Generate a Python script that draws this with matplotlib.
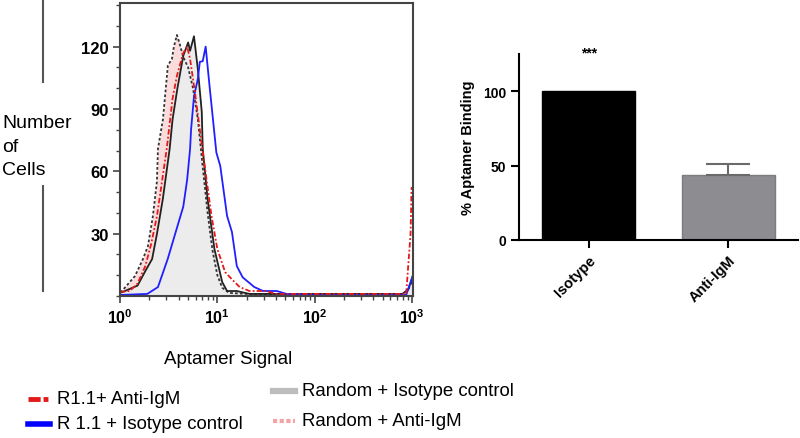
import matplotlib.pyplot as plt
import numpy as np
from matplotlib.lines import Line2D
from matplotlib.ticker import LogLocator, MultipleLocator, NullFormatter

plt.rcParams['font.family'] = ['Liberation Sans', 'DejaVu Sans']
plt.rcParams['mathtext.fontset'] = 'custom'
plt.rcParams['mathtext.bf'] = 'Liberation Sans:bold'
plt.rcParams['mathtext.rm'] = 'Liberation Sans'

# flow histograms, x as log10(aptamer signal), y as number of cells
rand_anti_x = [0.0, 0.02, 0.154, 0.236, 0.287, 0.338, 0.379, 0.39, 0.441, 0.492, 0.533,
               0.554, 0.585, 0.615, 0.65, 0.70, 0.75, 0.80, 0.85, 0.90, 0.95, 1.0, 1.05,
               1.12, 1.3, 1.6, 2.0, 2.5, 2.9, 2.96, 3.01]
rand_anti_y = [2, 2.4, 9.6, 17.8, 24, 38.5, 55, 70.8, 85, 111, 114,
               120, 125.6, 121, 115, 110, 100, 85, 62, 40, 22, 10, 4,
               1.5, 1, 0.8, 0.8, 0.8, 0.8, 3, 8]

rand_iso_x = [0.0, 0.05, 0.18, 0.26, 0.33, 0.38, 0.44, 0.51, 0.54, 0.59, 0.65, 0.70,
              0.72, 0.76, 0.80, 0.84, 0.85, 0.90, 0.97, 1.05, 1.10, 1.20, 1.33, 2.0,
              2.9, 2.96, 3.01]
rand_iso_y = [1.5, 2.4, 5, 12, 17.8, 30, 46.7, 70.8, 85, 100, 115.6, 122,
              118, 125, 109, 88.6, 70.8, 46.7, 22.6, 6.7, 2.4, 2.4, 1, 1,
              1, 3, 10]

r11_anti_x = [0.0, 0.1, 0.18, 0.26, 0.32, 0.38, 0.48, 0.54, 0.585, 0.65, 0.69, 0.72,
              0.77, 0.82, 0.86, 0.94, 1.0, 1.08, 1.15, 1.23, 1.33, 1.5, 1.6, 2.0,
              2.94, 2.985, 2.995, 3.01]
r11_anti_y = [2, 2.4, 6, 14.4, 25, 38.5, 70.8, 95, 106, 117, 120, 114,
              98, 80, 66, 38.5, 22.6, 11.5, 8, 4.3, 2.4, 2.4, 1, 1,
              1, 30, 52, 52]

r11_iso_x = [0.0, 0.28, 0.39, 0.49, 0.58, 0.65, 0.69, 0.72, 0.73, 0.76, 0.80, 0.82,
             0.85, 0.88, 0.92, 0.955, 0.99, 1.03, 1.10, 1.15, 1.20, 1.26, 1.38, 1.47,
             1.61, 1.71, 2.0, 2.94, 3.01]
r11_iso_y = [0.5, 1, 4.3, 17.8, 32, 43, 56, 70.8, 80, 96, 104.5, 112.7,
             113, 120, 101, 85, 69, 62.6, 38.5, 30.8, 14.4, 9, 4.3, 2.4,
             2.4, 1, 0.5, 0.5, 10]

hist_ticks = [1, 10, 100, 1000]
hist_tick_labels = [r'$\mathbf{10^{0}}$', r'$\mathbf{10^{1}}$',
                    r'$\mathbf{10^{2}}$', r'$\mathbf{10^{3}}$']
count_ticks = [30, 60, 90, 120]

# bar chart
groups = ['Isotype', 'Anti-IgM']
binding = [100, 44]
binding_err = [0, 7.3]

fig = plt.figure(figsize=(8, 4.39), dpi=100)
W, H = 800, 439

ax = fig.add_axes([120 / W, 1 - 297 / H, 293 / W, 293 / H])
ax.set_xscale('log')

ax.fill_between(10 ** np.array(rand_anti_x), rand_anti_y, color='#fbdcdc', lw=0)
ax.fill_between(10 ** np.array(rand_iso_x), rand_iso_y, color='#ececec', lw=0)
ax.plot(10 ** np.array(rand_anti_x), rand_anti_y, color='#333333', lw=1.3,
        linestyle=(0, (1.5, 1.2)))
ax.plot(10 ** np.array(rand_iso_x), rand_iso_y, color='#222222', lw=1.3)
ax.plot(10 ** np.array(r11_iso_x), r11_iso_y, color='#1f1fff', lw=1.3)
ax.plot(10 ** np.array(r11_anti_x), r11_anti_y, color='#e41a1a', lw=1.3,
        linestyle=(0, (3, 1.2, 1, 1.2)))

ax.set_xlim(1, 10 ** 3.01)
ax.set_ylim(0, 141)
ax.set_xticks(hist_ticks)
ax.set_xticklabels(hist_tick_labels, fontsize=11.5)
ax.xaxis.set_minor_locator(LogLocator(base=10, subs=np.arange(2, 10)))
ax.xaxis.set_minor_formatter(NullFormatter())
ax.set_yticks(count_ticks)
ax.set_yticklabels([str(v) for v in count_ticks], fontsize=12, fontweight='bold')
ax.yaxis.set_minor_locator(MultipleLocator(10))
ax.tick_params(which='major', length=5, width=1.2, color='#444444', pad=3)
ax.tick_params(which='minor', length=3, width=1, color='#444444')
for s in ax.spines.values():
    s.set_linewidth(1.5)
    s.set_color('#444444')

fig.text(2 / W, 1 - 147 / H, 'Number\nof\nCells', fontsize=14, ha='left', va='center',
         linespacing=1.5)
fig.add_artist(Line2D([43 / W, 43 / W], [1, 1 - 83 / H], transform=fig.transFigure,
                      color='#555555', lw=1.5))
fig.add_artist(Line2D([43 / W, 43 / W], [1 - 187 / H, 1 - 292 / H], transform=fig.transFigure,
                      color='#555555', lw=1.5))
fig.text(228 / W, 1 - 360 / H, 'Aptamer Signal', fontsize=13.5, ha='center', va='center')

# legend drawn by hand, the entries sit in a staggered layout
legend_items = [
    ('R1.1+ Anti-IgM', '#e41a1a', (0, (2.5, 0.6, 1, 0.6)), 3.5, 28, 400),
    ('R 1.1 + Isotype control', '#0000ff', '-', 4, 28, 425),
    ('Random + Isotype control', '#bdbdbd', '-', 4.5, 273, 392),
    ('Random + Anti-IgM', '#f4a3a3', (0, (1, 0.6)), 3, 273, 422),
]
for label, col, ls, lw, x0, y0 in legend_items:
    fig.add_artist(Line2D([x0 / W, (x0 + 22) / W], [1 - y0 / H, 1 - y0 / H],
                          transform=fig.transFigure, color=col, lw=lw, linestyle=ls))
    fig.text((x0 + 29) / W, 1 - y0 / H, label, fontsize=13.4, ha='left', va='center')

# bar chart
ax2 = fig.add_axes([519 / W, 1 - 241 / H, 279 / W, 186 / H])
xpos = np.arange(len(groups))
ax2.bar(xpos, binding, width=0.67, color=['black', '#8d8d91'],
        edgecolor=['black', '#7d7d80'], lw=1)
ax2.errorbar(xpos[1:], binding[1:], yerr=[[0], binding_err[1:]], fmt='none',
             ecolor='#6a6a6a', elinewidth=1.5, capsize=15.8, capthick=1.5)
ax2.text(xpos[0], 126, '***', ha='center', va='center', fontsize=10, fontweight='bold',
         clip_on=False)
ax2.set_xlim(-0.5, 1.5)
ax2.set_ylim(0, 125)
ax2.set_yticks([0, 50, 100])
ax2.set_yticklabels(['0', '50', '100'], fontsize=10, fontweight='bold')
ax2.set_xticks(xpos)
ax2.set_xticklabels(groups, rotation=45, ha='right', rotation_mode='anchor',
                    fontsize=10.5, fontweight='bold')
ax2.set_ylabel('% Aptamer Binding', fontsize=10.5, fontweight='bold', labelpad=6)
ax2.spines['top'].set_visible(False)
ax2.spines['right'].set_visible(False)
for side in ['left', 'bottom']:
    ax2.spines[side].set_linewidth(1.5)
ax2.tick_params(length=6, width=1.5, pad=3)

fig.savefig('out.png', dpi=100)
